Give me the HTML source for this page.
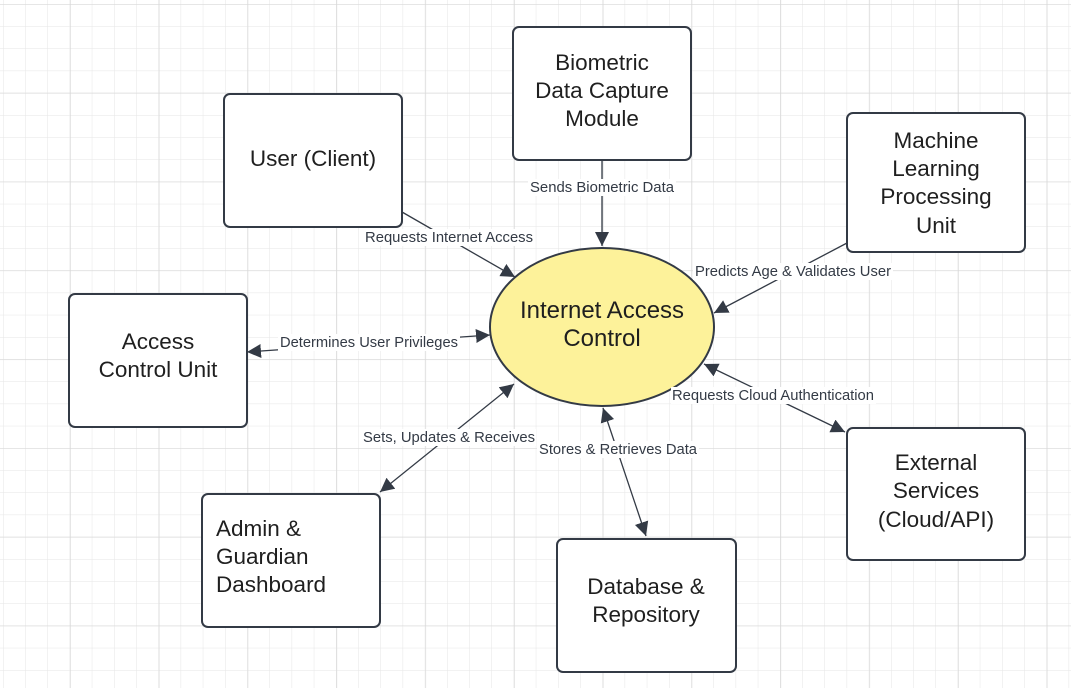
<!DOCTYPE html>
<html><head><meta charset="utf-8"><style>
body{margin:0;width:1071px;height:688px;overflow:hidden;background:#fff;font-family:"Liberation Sans",sans-serif}
svg{position:absolute;left:0;top:0}
</style></head><body>
<svg width="1071" height="688" viewBox="0 0 1071 688" xmlns="http://www.w3.org/2000/svg">
<defs>
<pattern id="g" x="3" y="4" width="22.2" height="22.2" patternUnits="userSpaceOnUse">
<path d="M0 0H22.2M0 0V22.2" stroke="#e6e6e6" stroke-width="1" fill="none"/></pattern>
<pattern id="G" x="70" y="4" width="88.8" height="88.8" patternUnits="userSpaceOnUse">
<path d="M0 0H88.8M0 0V88.8" stroke="#d8d8d8" stroke-width="1.3" fill="none"/></pattern>
<marker id="a" viewBox="0 0 10 10" refX="10" refY="5" markerWidth="14" markerHeight="14" markerUnits="userSpaceOnUse" orient="auto-start-reverse">
<path d="M0 0L10 5L0 10z" fill="#333a45"/></marker>
</defs>
<rect width="1071" height="688" fill="url(#g)"/>
<rect width="1071" height="688" fill="url(#G)"/>
<g stroke="#333a45" stroke-width="1.3" fill="none">
<line x1="402" y1="212" x2="515" y2="277" marker-end="url(#a)"/>
<line x1="602" y1="160" x2="602" y2="246" marker-end="url(#a)"/>
<line x1="847" y1="243" x2="714" y2="313" marker-end="url(#a)"/>
<line x1="247" y1="352" x2="490" y2="335" marker-start="url(#a)" marker-end="url(#a)"/>
<line x1="380" y1="492" x2="514" y2="384" marker-start="url(#a)" marker-end="url(#a)"/>
<line x1="603" y1="408" x2="646" y2="536" marker-start="url(#a)" marker-end="url(#a)"/>
<line x1="704" y1="364" x2="845" y2="432" marker-start="url(#a)" marker-end="url(#a)"/>
</g>
<ellipse cx="602" cy="327" rx="112" ry="79" fill="#fdf29a" stroke="#333a45" stroke-width="2"/>
<g fill="#fff" stroke="#333a45" stroke-width="2">
<rect x="224" y="94" width="178" height="133" rx="6"/>
<rect x="513" y="27" width="178" height="133" rx="6"/>
<rect x="847" y="113" width="178" height="139" rx="6"/>
<rect x="69" y="294" width="178" height="133" rx="6"/>
<rect x="202" y="494" width="178" height="133" rx="6"/>
<rect x="557" y="539" width="179" height="133" rx="6"/>
<rect x="847" y="428" width="178" height="132" rx="6"/>
</g>
<g font-size="14.5" fill="#333a45" text-anchor="middle">
<g fill="#fff" stroke="none">
<rect x="363" y="229" width="172" height="17"/>
<rect x="528" y="179" width="148" height="17"/>
<rect x="693" y="263" width="200" height="17"/>
<rect x="278" y="334" width="182" height="17"/>
<rect x="362" y="429" width="174" height="17"/>
<rect x="537" y="441" width="162" height="17"/>
<rect x="671" y="387" width="205" height="17"/>
</g>
<text x="449" y="242" textLength="168" lengthAdjust="spacingAndGlyphs">Requests Internet Access</text>
<text x="602" y="192" textLength="144" lengthAdjust="spacingAndGlyphs">Sends Biometric Data</text>
<text x="793" y="276" textLength="196" lengthAdjust="spacingAndGlyphs">Predicts Age &amp; Validates User</text>
<text x="369" y="347" textLength="178" lengthAdjust="spacingAndGlyphs">Determines User Privileges</text>
<text x="449" y="442" textLength="172" lengthAdjust="spacingAndGlyphs">Sets, Updates &amp; Receives</text>
<text x="618" y="454" textLength="158" lengthAdjust="spacingAndGlyphs">Stores &amp; Retrieves Data</text>
<text x="773" y="400" textLength="202" lengthAdjust="spacingAndGlyphs">Requests Cloud Authentication</text>
</g>
<g font-size="22.5" fill="#1f1f1f" text-anchor="middle">
<text x="313" y="166">User (Client)</text>
<text x="602" y="70">Biometric</text><text x="602" y="98">Data Capture</text><text x="602" y="126">Module</text>
<text x="936" y="148">Machine</text><text x="936" y="176">Learning</text><text x="936" y="204">Processing</text><text x="936" y="233">Unit</text>
<text x="158" y="349">Access</text><text x="158" y="377">Control Unit</text>
<text x="602" y="318" font-size="24">Internet Access</text><text x="602" y="346" font-size="24">Control</text>
<text x="936" y="470">External</text><text x="936" y="498">Services</text><text x="936" y="527">(Cloud/API)</text>
<text x="646" y="594">Database &amp;</text><text x="646" y="622">Repository</text>
<g text-anchor="start"><text x="216" y="536">Admin &amp;</text><text x="216" y="564">Guardian</text><text x="216" y="592">Dashboard</text></g>
</g>
</svg>
</body></html>
